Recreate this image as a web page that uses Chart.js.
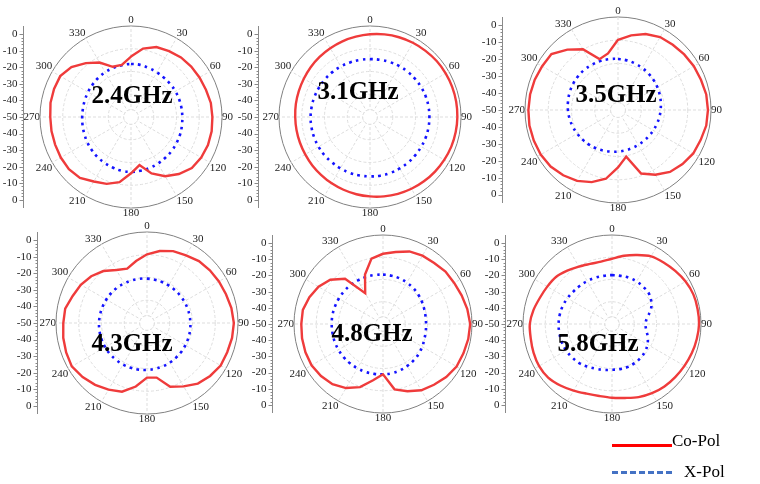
<!DOCTYPE html>
<html>
<head>
<meta charset="utf-8">
<script src="https://cdn.jsdelivr.net/npm/chart.js@4.4.1/dist/chart.umd.min.js"></script>
<style>
  html, body { margin: 0; padding: 0; background: #fff; }
  #wrap { position: relative; width: 760px; height: 484px; overflow: hidden; }
  #wrap canvas { position: absolute; }
  .freq { position: absolute; transform: translate(-50%, -50%); white-space: nowrap;
          font: bold 25px "Liberation Serif", serif; color: #000; }
  .legtxt { position: absolute; transform: translateY(-50%); font: 17px "Liberation Serif", serif; color: #000; white-space: nowrap; }
  .legline { position: absolute; height: 3px; }
</style>
</head>
<body>
<div id="wrap"></div>
<script>
/* radiation patterns – co-pol / cross-pol, dB vs angle (deg) */
const ANGLES = ['0','10','20','30','40','50','60','70','80','90','100','110','120','130','140','150','160','170',
                '180','190','200','210','220','230','240','250','260','270','280','290','300','310','320','330','340','350'];
const FREQS = ['2.4GHz', '3.1GHz', '3.5GHz', '4.3GHz', '4.8GHz', '5.8GHz'];
const AXIS_TICKS = [0, -10, -20, -30, -40, -50];
const R_MIN = -50, R_MAX = 5;

const co24 = [-13.5,-8,-5,-4,-3,-2.5,-2.2,-1.8,-1,-0.8, -0.5,-0.5,-1,-2,-5,-8.7,-13.7,-20.5,-16,-10,
              -7,-5,-2,-1,-1,-1.2,-1.2,-1.2,-0.6,-0.5, -0.6,-3,-7.5,-12,-17.7,-18];
const x24  = [-18,-18,-18.5,-18.8,-19,-19,-19,-19,-19,-19, -18.8,-18.5,-18.3,-18,-17.8,-17.5,-17.2,-17,-16.8,-17,
              -17.5,-18,-18.5,-19,-19.5,-20,-20.3,-20.5,-20.5,-20.3, -20,-19.6,-19.2,-18.8,-18.5,-18.2];
const co31 = [0,0.7,1.3,1.8,2.2,2.6,2.8,2.9,2.9,2.8, 2.6,2.3,1.8,1.3,0.7,0.1,-0.6,-1.3,-2,-2.6,
              -3.2,-3.7,-4.2,-4.5,-4.8,-4.9,-4.9,-4.8,-4.5,-4.2, -3.8,-3.2,-2.6,-2,-1.3,-0.7];
const x31  = [-15,-14.9,-14.7,-14.5,-14.4,-14.3,-14.2,-14.1,-14.1,-14.1, -14.1,-14.1,-14.2,-14.2,-14.1,-14.1,-14,-14,-14.1,-14.1,
              -14.1,-14.2,-14.2,-14.1,-14.1,-14.1,-14.1,-14.1,-14.2,-14.3, -14.4,-14.5,-14.6,-14.7,-14.9,-15];
const co35 = [-8.5,-5.2,-2.2,-0.2,0.4,1.1,1.8,2.2,3,3.2, 3,2,1.4,-0.2,-2.2,-5.8,-10,-22,-16,-8.7,
              -4.6,-1.6,0.4,2,2.8,3,3.2,3,2.8,2.4, 1.8,1.4,-3.4,-8.5,-18,-16];
const x35  = [-19.8,-20.2,-20.7,-21.3,-21.9,-22.5,-23.1,-23.7,-24.3,-24.8, -25.2,-25.6,-25.9,-26.1,-26.2,-26.1,-26,-25.7,-25.4,-25,
              -24.5,-23.9,-23.3,-22.7,-22.1,-21.5,-20.9,-20.4,-20,-19.6, -19.3,-19.1,-19,-19.1,-19.2,-19.5];
const co43 = [-8.5,-5.8,-3.8,-2.8,-1.2,-0.4,0.2,0.8,1.8,2.5, 2.2,1.6,1.4,-0.2,-2.2,-5.8,-9,-16.5,-17,-11,
              -5.8,-3.5,-1.2,0.8,2.5,2,1.4,0.6,0.2,-2.2, -3.8,-6,-9,-13,-15,-12];
const x43  = [-23.2,-23.4,-23.6,-23.8,-23.9,-24,-24,-24,-23.9,-23.8, -23.6,-23.4,-23.2,-22.9,-22.7,-22.4,-22.1,-21.9,-21.6,-21.4,
              -21.2,-21,-20.9,-20.8,-20.8,-20.8,-20.9,-21,-21.2,-21.4, -21.6,-21.8,-22.1,-22.4,-22.7,-22.9];
const co48 = [-6.6,-4.8,-2.3,-1.2,-0.8,0.4,0.8,1.7,2.9,3.9, 3.5,2.9,2.5,1,-1,-2.7,-5.8,-9,-18.9,-14.7,
              -8.5,-4.3,-1.4,0,1,1,0.8,0.5,0.3,-1.6, -4,-7.5,-13.5,-28,-17.5,-9];
const x48  = [-19.5,-19.7,-20,-20.5,-21,-21.6,-22.3,-22.9,-23.3,-23.4, -23.2,-22.8,-22,-21.2,-20.6,-20,-19.5,-19.1,-18.9,-18.7,
              -18.5,-18.4,-18.3,-18.2,-18.2,-18.2,-18.3,-18.3,-18.3,-18.4, -18.5,-18.6,-18.7,-18.9,-19.1,-19.3];
const co58 = [-9.7,-7.2,-4.6,-1.7,-0.4,1,2.5,3.5,3.7,3.8, 3.2,2.5,1.7,1,0.4,-0.6,-1.9,-3.6,-4.4,-4.8,
              -4.2,-2.5,-0.4,1.5,2,1.6,1,0.8,-0.7,-2.6, -3.8,-4.8,-7,-9,-10.5,-10.9];
const x58  = [-19.8,-19.8,-19.6,-19.6,-20,-20.4,-22,-24.5,-28,-29.3, -28.5,-26.5,-24.7,-23.4,-22.6,-22.1,-21.7,-21.7,-21.7,-21.2,
              -20.6,-19.6,-18.5,-17.9,-17.3,-17,-17,-17,-17.2,-17.6, -18.2,-18.8,-19.2,-19.4,-19.6,-19.8];

// grid circles as fractions of the radius (inner hub, then quarters)
const GRID_FRAC = [0.08, 0.25, 0.5, 0.75, 1];

// layout: centre, radius, gap to the left dB axis, label position
const panels = [
  { freq: FREQS[0], co: co24, xp: x24, cx: 131, cy: 117, r: 91, gap: 108, tx: 132, ty: 95,  tension: 0 },
  { freq: FREQS[1], co: co31, xp: x31, cx: 370, cy: 117, r: 91, gap: 112, tx: 358, ty: 91,  tension: 0.3 },
  { freq: FREQS[2], co: co35, xp: x35, cx: 618, cy: 110, r: 93, gap: 116, tx: 616, ty: 94,  tension: 0 },
  { freq: FREQS[3], co: co43, xp: x43, cx: 147, cy: 323, r: 91, gap: 110, tx: 132, ty: 343, tension: 0 },
  { freq: FREQS[4], co: co48, xp: x48, cx: 383, cy: 324, r: 89, gap: 111, tx: 372, ty: 333, tension: 0 },
  { freq: FREQS[5], co: co58, xp: x58, cx: 612, cy: 324, r: 89, gap: 107, tx: 598, ty: 343, tension: 0.3 }
];

const GRID_C = '#dddddd';

const polarExtras = {
  id: 'polarExtras',
  beforeDatasetsDraw(chart, args, opts) {
    const s = chart.scales.r, c = chart.ctx;
    const x0 = s.xCenter, y0 = s.yCenter, R = s.drawingArea;
    // empty hub in the middle
    const hub = s.getDistanceFromCenterForValue(s.ticks[0].value);
    c.save();
    c.fillStyle = '#fff';
    c.beginPath(); c.arc(x0, y0, hub, 0, Math.PI * 2); c.fill();
    c.strokeStyle = GRID_C; c.lineWidth = 1; c.setLineDash([3, 2]); c.stroke();
    c.setLineDash([]);
    // dB axis on the left
    const ax = Math.round(x0 - opts.gap) + 0.5;
    c.strokeStyle = '#8a8a8a';
    c.beginPath(); c.moveTo(ax, y0 - R); c.lineTo(ax, y0 + R); c.stroke();
    for (let v = R_MIN; v <= 0; v += 2) {
      const d = s.getDistanceFromCenterForValue(v), len = v % 10 === 0 ? 4 : 2;
      new Set([Math.round(y0 - d), Math.round(y0 + d)]).forEach(y => {
        c.beginPath(); c.moveTo(ax - len, y + 0.5); c.lineTo(ax, y + 0.5); c.stroke();
      });
    }
    c.fillStyle = '#222'; c.font = '11px "Liberation Serif"';
    c.textAlign = 'right'; c.textBaseline = 'middle';
    AXIS_TICKS.forEach(v => {
      const d = s.getDistanceFromCenterForValue(v);
      new Set([y0 - d, y0 + d]).forEach(y => c.fillText(String(v), ax - 6, y));
    });
    c.restore();
  }
};

const wrap = document.getElementById('wrap');

panels.forEach(p => {
  const half = p.gap + 28;
  const cv = document.createElement('canvas');
  cv.width = half * 2; cv.height = 2 * (p.r + 11);
  cv.style.left = (p.cx - half) + 'px';
  cv.style.top = (p.cy - p.r - 11) + 'px';
  wrap.appendChild(cv);

  new Chart(cv, {
    type: 'radar',
    data: { labels: ANGLES, datasets: [
      { label: 'Co-Pol', data: p.co, borderColor: '#ef3b3b', borderWidth: 2.4, pointRadius: 0, fill: false, tension: p.tension },
      { label: 'X-Pol', data: p.xp, borderColor: '#1414ff', borderWidth: 2.6, borderDash: [2.6, 4.4], pointRadius: 0, fill: false, tension: 0.4 }
    ] },
    options: {
      responsive: false, animation: false, devicePixelRatio: 1,
      plugins: { legend: { display: false }, tooltip: { enabled: false }, polarExtras: { gap: p.gap } },
      scales: { r: {
        min: R_MIN, max: R_MAX,
        afterBuildTicks: s => { s.ticks = GRID_FRAC.map(f => ({ value: R_MIN + f * (R_MAX - R_MIN) })); },
        ticks: { display: false },
        grid: { circular: true, lineWidth: 1, color: c => c.index === GRID_FRAC.length - 1 ? '#808080' : GRID_C },
        border: { dash: c => c.index === GRID_FRAC.length - 1 ? [] : [3, 2] },
        angleLines: { color: GRID_C, lineWidth: c => c.index % 3 === 0 ? 1 : 0, borderDash: [3, 2] },
        pointLabels: { padding: 0, color: '#222', font: { family: 'Liberation Serif', size: 11, lineHeight: 1 },
                       callback: (l, i) => i % 3 === 0 ? l : '' }
      } }
    },
    plugins: [polarExtras]
  });

  const lab = document.createElement('div');
  lab.className = 'freq'; lab.textContent = p.freq;
  lab.style.left = p.tx + 'px'; lab.style.top = p.ty + 'px';
  wrap.appendChild(lab);
});

// legend
wrap.insertAdjacentHTML('beforeend', `
  <div class="legline" style="left:612px;top:444px;width:60px;background:#ff0000"></div>
  <div class="legtxt" style="left:672px;top:441px">Co-Pol</div>
  <div class="legline" style="left:612px;top:471px;width:62px;background:repeating-linear-gradient(90deg,#4472c4 0 6px,transparent 6px 9px)"></div>
  <div class="legtxt" style="left:684px;top:472px">X-Pol</div>`);
</script>
</body>
</html>
